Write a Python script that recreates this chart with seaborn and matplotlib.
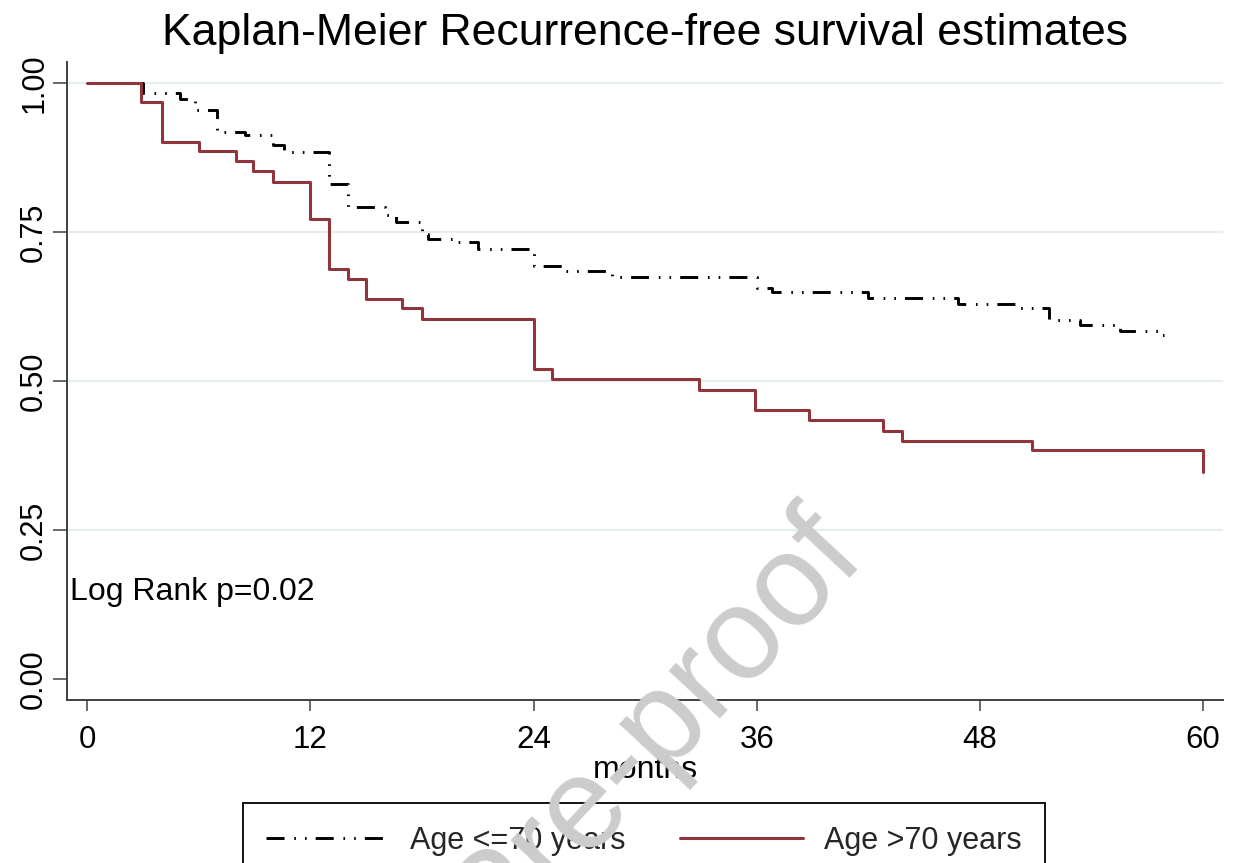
import numpy as np
import pandas as pd
import matplotlib
matplotlib.use("Agg")
from matplotlib import pyplot as plt
import seaborn as sns

# Kaplan-Meier step data (months, survival)
months_young = [0, 3.0, 5.0, 5.8, 7.0, 8.5, 10.0, 10.6, 13.0, 14.0, 16.0, 16.6,
                18.0, 18.3, 19.9, 21.0, 24.0, 25.7, 28.2, 36.0, 36.8, 42.0,
                46.8, 50.0, 51.7, 53.4, 55.5, 57.6, 57.9]
surv_young = [1.0, 0.984, 0.973, 0.955, 0.919, 0.913, 0.897, 0.884, 0.831, 0.793,
              0.779, 0.768, 0.747, 0.739, 0.734, 0.722, 0.693, 0.685, 0.675,
              0.657, 0.650, 0.640, 0.630, 0.622, 0.602, 0.594, 0.584, 0.577, 0.577]

months_old = [0, 2.9, 4.0, 6.0, 8.0, 8.9, 10.0, 12.0, 13.0, 14.0, 15.0, 16.9,
              18.0, 24.0, 25.0, 32.9, 35.9, 38.8, 42.8, 43.8, 50.8, 60.0]
surv_old = [1.0, 0.968, 0.902, 0.887, 0.869, 0.853, 0.835, 0.772, 0.688, 0.671,
            0.638, 0.622, 0.605, 0.521, 0.503, 0.485, 0.452, 0.434, 0.416,
            0.400, 0.384, 0.347]

labels = ["Age <=70 years", "Age >70 years"]
x_ticks = [0, 12, 24, 36, 48, 60]
y_ticks = [0.0, 0.25, 0.5, 0.75, 1.0]
y_ticklabels = ["0.00", "0.25", "0.50", "0.75", "1.00"]

sns.set_theme(style="white")
plt.rcParams["font.family"] = ["Liberation Sans", "DejaVu Sans"]
plt.rcParams["lines.scale_dashes"] = False

W, H = 1234, 863
fig = plt.figure(figsize=(W / 100, H / 100), dpi=100)
ax = fig.add_axes([67.3 / W, 1 - 700 / H, (1223.3 - 67.3) / W, (700 - 62) / H])

young = pd.DataFrame({"months": months_young, "surv": surv_young})
old = pd.DataFrame({"months": months_old, "surv": surv_old})

sns.lineplot(data=young, x="months", y="surv", ax=ax, estimator=None, sort=False,
             drawstyle="steps-post", color="black", lw=2.1,
             linestyle=(0, (13, 7, 1.2, 6.5, 1.2, 6.5)), label=labels[0], zorder=3)
sns.lineplot(data=old, x="months", y="surv", ax=ax, estimator=None, sort=False,
             drawstyle="steps-post", color="#90353b", lw=2.2,
             label=labels[1], zorder=3)

ax.set_xlim(-1.075, 61.08)
ax.set_ylim(-0.0353, 1.0358)
ax.set_xticks(x_ticks)
ax.set_yticks(y_ticks)
ax.set_yticklabels(y_ticklabels, rotation=90, va="center")

ax.grid(axis="y", color="#e6eef0", lw=1.6, zorder=0)
ax.yaxis.get_gridlines()[0].set_visible(False)
ax.set_axisbelow(True)

for s in ["top", "right"]:
    ax.spines[s].set_visible(False)
for s in ["left", "bottom"]:
    ax.spines[s].set_color("#404040")
    ax.spines[s].set_linewidth(1.4)

ax.tick_params(axis="x", bottom=True, length=8, width=1.1, color="#404040",
               pad=10, labelsize=22.5, labelcolor="black")
ax.tick_params(axis="y", left=True, length=10, width=1.1, color="#404040",
               pad=3, labelsize=22, labelcolor="black")

ax.set_xlabel("months", fontsize=23, color="black", labelpad=0)
ax.set_ylabel("")

ax.text(-0.95, 0.132, "Log Rank p=0.02", fontsize=23, color="black",
        ha="left", va="baseline")

fig.text(645 / W, 1 - 33 / H, "Kaplan-Meier Recurrence-free survival estimates",
         fontsize=32.1, color="black", ha="center", va="center")

h, l = ax.get_legend_handles_labels()
if ax.get_legend() is not None:
    ax.get_legend().remove()
leg = fig.legend(h, l, loc="upper center", bbox_to_anchor=(644 / W, 1 - 803 / H),
                 ncol=2, fontsize=22, handlelength=4.0, handletextpad=0.7,
                 columnspacing=1.8, borderpad=0.75, borderaxespad=0,
                 frameon=True, fancybox=False, framealpha=1, edgecolor="black")
leg.get_frame().set_linewidth(1.3)

# watermark
fig.text(868 / W, 1 - 560 / H, "Journal Pre-proof", fontsize=94, color="#cccccc",
         ha="right", va="baseline", rotation=47, rotation_mode="anchor", zorder=10)

fig.savefig("out.png", dpi=100)
